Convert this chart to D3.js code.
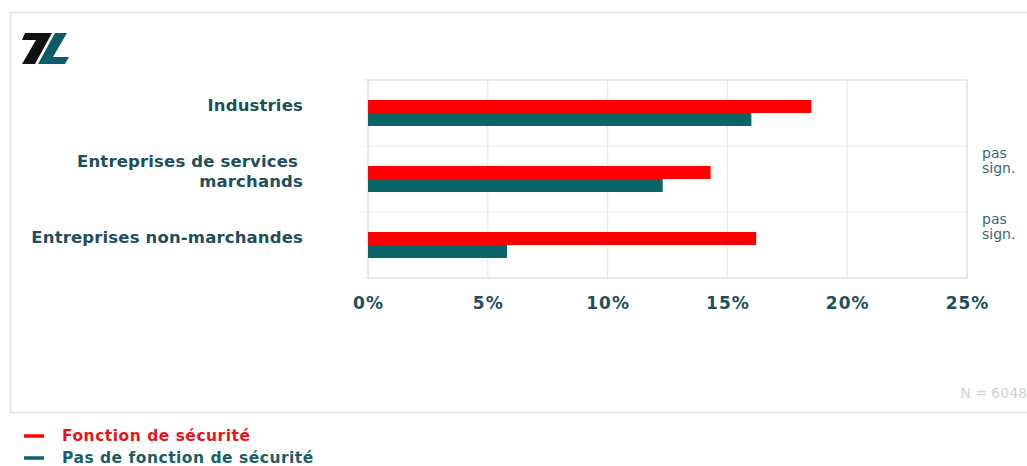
<!DOCTYPE html>
<html>
<head>
<meta charset="utf-8">
<script src="https://cdn.jsdelivr.net/npm/d3@7"></script>
<style>
  html, body { margin: 0; padding: 0; background: #ffffff; }
  svg { display: block; }
</style>
</head>
<body>
<svg id="chart" width="1027" height="466"></svg>
<script>
// Share of employees by sector, with / without a security function
const categories = [
  ["Industries"],
  ["Entreprises de services", "marchands"],
  ["Entreprises non-marchandes"]
];
const seriesNames = ["Fonction de sécurité", "Pas de fonction de sécurité"];
const securite = [18.5, 14.3, 16.2];
const sansSecurite = [16.0, 12.3, 5.8];
const notes = ["", "pas sign.", "pas sign."];
const tickValues = [0, 5, 10, 15, 20, 25];
const footnote = "N = 6048";

const colors = ["#ff0000", "#0b6466"];
const textColor = "#1e4f5b";
const font = "'DejaVu Sans', Verdana, sans-serif";

const svg = d3.select("#chart");

// outer panel
svg.append("rect")
  .attr("x", 10.5).attr("y", 12.5)
  .attr("width", 1030).attr("height", 400)
  .attr("fill", "#ffffff")
  .attr("stroke", "#e4e7e8").attr("stroke-width", 2);

// logo
const logo = svg.append("g");
logo.append("path")
  .attr("d", "M25,33 L52,33 L35,64 L22,64 L36,40 L22,40 Z")
  .attr("fill", "#111111");
logo.append("path")
  .attr("d", "M55,33 L67,33 L53,57 L69,57 L65,64 L38,64 Z")
  .attr("fill", "#0e5a66");

const margin = { left: 368, right: 967, top: 80, bottom: 278 };

const x = d3.scaleLinear().domain([0, 25]).range([margin.left, margin.right]);
const y = d3.scaleBand().domain(d3.range(categories.length))
  .range([margin.top, margin.bottom]).padding(0);
const sub = d3.scaleBand().domain([0, 1]).range([20, y.bandwidth() - 20]).padding(0);

const plot = svg.append("g");

// vertical gridlines
plot.selectAll("line.vgrid").data(tickValues).join("line")
  .attr("class", "vgrid")
  .attr("x1", d => x(d)).attr("x2", d => x(d))
  .attr("y1", margin.top).attr("y2", margin.bottom)
  .attr("stroke", "#e8ecee").attr("stroke-width", 1.2);

// horizontal band separators
const seps = d3.range(categories.length + 1).map(i => margin.top + i * y.bandwidth());
plot.selectAll("line.hgrid").data(seps).join("line")
  .attr("class", "hgrid")
  .attr("x1", margin.left - 5).attr("x2", margin.right)
  .attr("y1", d => d).attr("y2", d => d)
  .attr("stroke", "#e8ecee").attr("stroke-width", 1.2);

// frame
plot.append("rect")
  .attr("x", margin.left).attr("y", margin.top)
  .attr("width", margin.right - margin.left).attr("height", margin.bottom - margin.top)
  .attr("fill", "none").attr("stroke", "#dde3e6").attr("stroke-width", 1.2);

// bars
const rows = categories.map((c, i) => ({ i, vals: [securite[i], sansSecurite[i]] }));
const groups = plot.selectAll("g.row").data(rows).join("g")
  .attr("class", "row")
  .attr("transform", d => `translate(0,${y(d.i)})`);
groups.selectAll("rect").data(d => d.vals.map((v, k) => ({ v, k }))).join("rect")
  .attr("x", x(0))
  .attr("y", d => sub(d.k))
  .attr("width", d => x(d.v) - x(0))
  .attr("height", sub.bandwidth())
  .attr("fill", d => colors[d.k]);

// category labels
const labels = svg.append("g")
  .attr("font-family", font)
  .attr("font-weight", "bold").attr("font-size", 16.5)
  .attr("letter-spacing", 0.15)
  .attr("fill", textColor).attr("text-anchor", "end");
categories.forEach((lines, i) => {
  const cy = y(i) + y.bandwidth() / 2;
  const start = lines.length > 1 ? cy - 12 : cy - 2;
  lines.forEach((t, j) => {
    labels.append("text")
      .attr("x", lines.length > 1 && j === 0 ? 298 : 303)
      .attr("y", start + j * 20)
      .text(t);
  });
});

// x axis tick labels
const axis = d3.axisBottom(x).tickValues(tickValues).tickSize(0).tickPadding(0)
  .tickFormat(d => d + "%");
const ax = svg.append("g").attr("transform", `translate(0,${margin.bottom + 31})`).call(axis);
ax.select(".domain").remove();
ax.selectAll("text")
  .attr("font-family", font)
  .attr("font-weight", "bold").attr("font-size", 17)
  .attr("letter-spacing", 1)
  .attr("fill", textColor).attr("dy", 0);

// significance notes
const noteG = svg.append("g")
  .attr("font-family", font)
  .attr("font-size", 14).attr("fill", "#3a6874");
notes.forEach((n, i) => {
  if (!n) return;
  n.split(" ").forEach((p, j) => {
    noteG.append("text")
      .attr("x", 982)
      .attr("y", y(i) + 12 + j * 15)
      .text(p);
  });
});

// sample size
svg.append("text")
  .attr("x", 1027).attr("y", 398)
  .attr("text-anchor", "end")
  .attr("font-family", font)
  .attr("font-size", 14).attr("fill", "#cfd3d5")
  .text(footnote);

// legend
const legend = svg.append("g");
seriesNames.forEach((name, k) => {
  const ly = 436 + k * 22;
  legend.append("line")
    .attr("x1", 24).attr("x2", 44)
    .attr("y1", ly).attr("y2", ly)
    .attr("stroke", colors[k]).attr("stroke-width", 3.5);
  legend.append("text")
    .attr("x", 62).attr("y", ly + 5)
    .attr("font-family", font)
    .attr("font-weight", "bold").attr("font-size", 15.5)
    .attr("letter-spacing", 0.5)
    .attr("fill", k === 0 ? "#e8141c" : "#1a5e66")
    .text(name);
});
</script>
</body>
</html>
